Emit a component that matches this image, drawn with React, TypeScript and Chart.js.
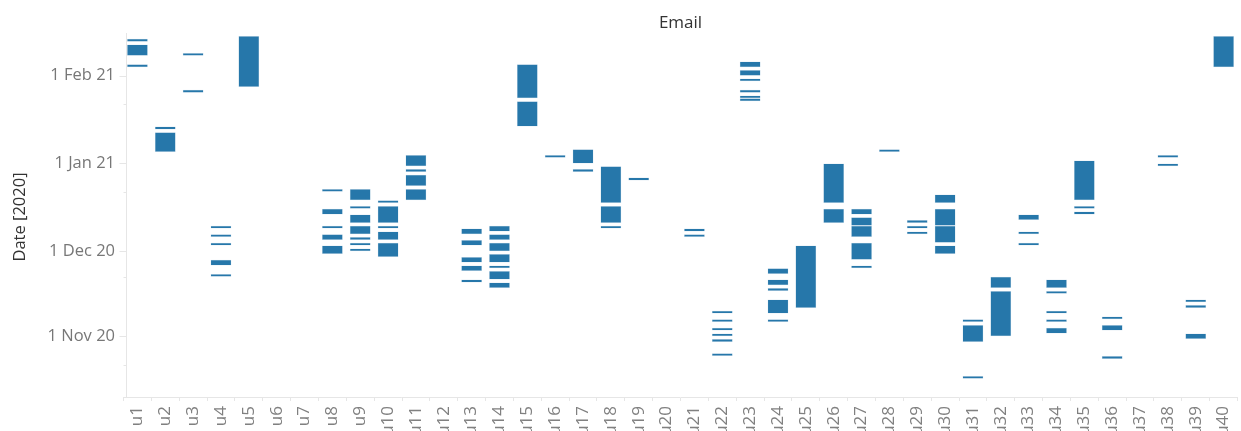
import React, { useEffect, useRef } from "react";
import { Chart, registerables } from "chart.js";

Chart.register(...registerables);

// ---------- data ----------
const users = [
  "u1", "u2", "u3", "u4", "u5", "u6", "u7", "u8", "u9", "u10",
  "u11", "u12", "u13", "u14", "u15", "u16", "u17", "u18", "u19", "u20",
  "u21", "u22", "u23", "u24", "u25", "u26", "u27", "u28", "u29", "u30",
  "u31", "u32", "u33", "u34", "u35", "u36", "u37", "u38", "u39", "u40",
];

// Email activity per user: [first day, last day] (inclusive)
const userRanges: [string, string][][] = [
  /* u1 */ [["2021-02-13", "2021-02-13"], ["2021-02-08", "2021-02-11"], ["2021-02-04", "2021-02-04"]],
  /* u2 */ [["2021-01-13", "2021-01-13"], ["2021-01-05", "2021-01-11"]],
  /* u3 */ [["2021-02-08", "2021-02-08"], ["2021-01-26", "2021-01-26"]],
  /* u4 */ [["2020-12-09", "2020-12-09"], ["2020-12-06", "2020-12-06"], ["2020-12-03", "2020-12-03"], ["2020-11-26", "2020-11-27"], ["2020-11-22", "2020-11-22"]],
  /* u5 */ [["2021-01-28", "2021-02-14"]],
  /* u6 */ [],
  /* u7 */ [],
  /* u8 */ [["2020-12-22", "2020-12-22"], ["2020-12-14", "2020-12-15"], ["2020-12-09", "2020-12-09"], ["2020-12-05", "2020-12-06"], ["2020-11-30", "2020-12-02"]],
  /* u9 */ [["2020-12-19", "2020-12-22"], ["2020-12-16", "2020-12-16"], ["2020-12-11", "2020-12-13"], ["2020-12-07", "2020-12-09"], ["2020-12-05", "2020-12-05"], ["2020-12-03", "2020-12-03"], ["2020-12-01", "2020-12-01"]],
  /* u10 */ [["2020-12-18", "2020-12-18"], ["2020-12-11", "2020-12-16"], ["2020-12-09", "2020-12-09"], ["2020-12-05", "2020-12-07"], ["2020-11-29", "2020-12-03"]],
  /* u11 */ [["2020-12-31", "2021-01-03"], ["2020-12-29", "2020-12-29"], ["2020-12-24", "2020-12-27"], ["2020-12-19", "2020-12-22"]],
  /* u12 */ [],
  /* u13 */ [["2020-12-07", "2020-12-08"], ["2020-12-03", "2020-12-04"], ["2020-11-27", "2020-11-28"], ["2020-11-24", "2020-11-25"], ["2020-11-20", "2020-11-20"]],
  /* u14 */ [["2020-12-08", "2020-12-09"], ["2020-12-05", "2020-12-06"], ["2020-12-01", "2020-12-03"], ["2020-11-27", "2020-11-29"], ["2020-11-25", "2020-11-25"], ["2020-11-21", "2020-11-23"], ["2020-11-18", "2020-11-19"]],
  /* u15 */ [["2021-01-24", "2021-02-04"], ["2021-01-14", "2021-01-22"]],
  /* u16 */ [["2021-01-03", "2021-01-03"]],
  /* u17 */ [["2021-01-01", "2021-01-05"], ["2020-12-29", "2020-12-29"]],
  /* u18 */ [["2020-12-18", "2020-12-30"], ["2020-12-11", "2020-12-16"], ["2020-12-09", "2020-12-09"]],
  /* u19 */ [["2020-12-26", "2020-12-26"]],
  /* u20 */ [],
  /* u21 */ [["2020-12-08", "2020-12-08"], ["2020-12-06", "2020-12-06"]],
  /* u22 */ [["2020-11-09", "2020-11-09"], ["2020-11-06", "2020-11-06"], ["2020-11-03", "2020-11-03"], ["2020-11-01", "2020-11-01"], ["2020-10-30", "2020-10-30"], ["2020-10-25", "2020-10-25"]],
  /* u23 */ [["2021-02-04", "2021-02-05"], ["2021-02-01", "2021-02-02"], ["2021-01-30", "2021-01-30"], ["2021-01-26", "2021-01-26"], ["2021-01-24", "2021-01-24"], ["2021-01-23", "2021-01-23"]],
  /* u24 */ [["2020-11-23", "2020-11-24"], ["2020-11-19", "2020-11-20"], ["2020-11-17", "2020-11-17"], ["2020-11-09", "2020-11-13"], ["2020-11-06", "2020-11-06"]],
  /* u25 */ [["2020-11-11", "2020-12-02"]],
  /* u26 */ [["2020-12-18", "2020-12-31"], ["2020-12-11", "2020-12-15"]],
  /* u27 */ [["2020-12-14", "2020-12-15"], ["2020-12-10", "2020-12-12"], ["2020-12-06", "2020-12-09"], ["2020-11-28", "2020-12-03"], ["2020-11-25", "2020-11-25"]],
  /* u28 */ [["2021-01-05", "2021-01-05"]],
  /* u29 */ [["2020-12-11", "2020-12-11"], ["2020-12-09", "2020-12-09"], ["2020-12-07", "2020-12-07"]],
  /* u30 */ [["2020-12-18", "2020-12-20"], ["2020-12-10", "2020-12-15"], ["2020-12-04", "2020-12-09"], ["2020-11-30", "2020-12-02"]],
  /* u31 */ [["2020-11-06", "2020-11-06"], ["2020-10-30", "2020-11-04"], ["2020-10-17", "2020-10-17"]],
  /* u32 */ [["2020-11-18", "2020-11-21"], ["2020-11-01", "2020-11-16"]],
  /* u33 */ [["2020-12-12", "2020-12-13"], ["2020-12-07", "2020-12-07"], ["2020-12-03", "2020-12-03"]],
  /* u34 */ [["2020-11-18", "2020-11-20"], ["2020-11-16", "2020-11-16"], ["2020-11-09", "2020-11-09"], ["2020-11-06", "2020-11-06"], ["2020-11-02", "2020-11-03"]],
  /* u35 */ [["2020-12-19", "2021-01-01"], ["2020-12-16", "2020-12-16"], ["2020-12-14", "2020-12-14"]],
  /* u36 */ [["2020-11-07", "2020-11-07"], ["2020-11-03", "2020-11-04"], ["2020-10-24", "2020-10-24"]],
  /* u37 */ [],
  /* u38 */ [["2021-01-03", "2021-01-03"], ["2020-12-31", "2020-12-31"]],
  /* u39 */ [["2020-11-13", "2020-11-13"], ["2020-11-11", "2020-11-11"], ["2020-10-31", "2020-11-01"]],
  /* u40 */ [["2021-02-04", "2021-02-14"]],
];

const majorTickDates = ["2020-11-01", "2020-12-01", "2021-01-01", "2021-02-01"];
const majorTickLabels = ["1 Nov 20", "1 Dec 20", "1 Jan 21", "1 Feb 21"];
const minorTickDates = ["2020-10-22", "2020-11-22", "2020-12-22", "2021-01-22"];

const chartTitle = "Email";
const yAxisTitle = "Date [2020]";

// ---------- helpers ----------
const BASE = Date.UTC(2020, 10, 1);
function dayNum(s: string): number {
  const [y, m, d] = s.split("-").map(Number);
  return (Date.UTC(y, m - 1, d) - BASE) / 86400000;
}

const FONT = "'Open Sans', 'Noto Sans', sans-serif";
const BAR_COLOR = "#2677aa";
const BAR_EDGE = "#cfe0ec";
const AXIS_COLOR = "#e6e6e6";

const Y_MIN = -21.45;
const Y_MAX = 107.05;

const majorValues = majorTickDates.map(dayNum);
const minorValues = minorTickDates.map(dayNum);

const decorPlugin = {
  id: "decor",
  afterDraw(chart: any) {
    const { ctx, chartArea } = chart;
    const y = chart.scales.y;
    ctx.save();
    // y axis line and tick marks
    const xl = Math.floor(chartArea.left + 2.5) + 0.5;
    ctx.strokeStyle = AXIS_COLOR;
    ctx.lineWidth = 1;
    ctx.beginPath();
    ctx.moveTo(xl, chartArea.top);
    ctx.lineTo(xl, chartArea.bottom);
    ctx.stroke();
    const drawTick = (v: number, len: number) => {
      const py = Math.round(y.getPixelForValue(v)) + 0.5;
      ctx.beginPath();
      ctx.moveTo(xl - len, py);
      ctx.lineTo(xl, py);
      ctx.stroke();
    };
    majorValues.forEach((v) => drawTick(v, 7));
    minorValues.forEach((v) => drawTick(v, 3));

    // header title
    ctx.fillStyle = "#333333";
    ctx.font = `17px ${FONT}`;
    ctx.textAlign = "center";
    ctx.textBaseline = "middle";
    ctx.fillText(chartTitle, (chartArea.left + chartArea.right) / 2, 23);

    // y-axis title
    ctx.translate(20, (chartArea.top + chartArea.bottom) / 2 + 2);
    ctx.rotate(-Math.PI / 2);
    ctx.font = `16.5px ${FONT}`;
    ctx.fillText(yAxisTitle, 0, 0);
    ctx.restore();
  },
};

export default function App() {
  const ref = useRef<HTMLCanvasElement | null>(null);

  useEffect(() => {
    if (!ref.current) return;
    const maxLen = Math.max(...userRanges.map((r) => r.length));
    const datasets = [];
    for (let k = 0; k < maxLen; k++) {
      datasets.push({
        label: `mark ${k + 1}`,
        data: userRanges.map((r) =>
          r[k] ? [dayNum(r[k][0]), dayNum(r[k][1]) + 1] : null
        ),
        backgroundColor: BAR_COLOR,
        borderColor: BAR_EDGE,
        borderWidth: 0.5,
        borderSkipped: false,
        inflateAmount: 0,
        grouped: false,
        barPercentage: 0.75,
        categoryPercentage: 1,
      });
    }

    const chart = new Chart(ref.current, {
      type: "bar",
      data: { labels: users, datasets: datasets as any },
      options: {
        animation: false,
        responsive: false,
        maintainAspectRatio: false,
        layout: { padding: { top: 33, left: 0, right: 0, bottom: 0 } },
        plugins: {
          legend: { display: false },
          tooltip: { enabled: false },
          title: { display: false },
        },
        scales: {
          x: {
            type: "category",
            offset: true,
            grid: {
              offset: true,
              drawOnChartArea: false,
              drawTicks: true,
              tickLength: 4,
              color: AXIS_COLOR,
            },
            border: { display: true, color: AXIS_COLOR },
            ticks: {
              autoSkip: false,
              minRotation: 90,
              maxRotation: 90,
              padding: 5,
              color: "#808080",
              font: { family: FONT, size: 17 },
            },
            afterFit: (s: any) => {
              s.height = 48;
            },
          },
          y: {
            type: "linear",
            min: Y_MIN,
            max: Y_MAX,
            grid: { display: false, drawTicks: false },
            border: { display: false },
            ticks: {
              autoSkip: false,
              padding: 8.5,
              color: "#777777",
              font: { family: FONT, size: 16.5 },
              callback: (v: any) => {
                const i = majorValues.indexOf(Number(v));
                return i >= 0 ? majorTickLabels[i] : "";
              },
            },
            afterBuildTicks: (s: any) => {
              s.ticks = majorValues.map((v) => ({ value: v }));
            },
            afterFit: (s: any) => {
              s.width = 123.5;
            },
          },
        },
      } as any,
      plugins: [decorPlugin],
    });
    return () => chart.destroy();
  }, []);

  return (
    <div
      style={{
        position: "fixed",
        left: 0,
        top: 0,
        width: "100vw",
        height: "100vh",
        overflow: "hidden",
        background: "#ffffff",
      }}
    >
      <canvas ref={ref} width={1249} height={445} style={{ display: "block" }} />
    </div>
  );
}
